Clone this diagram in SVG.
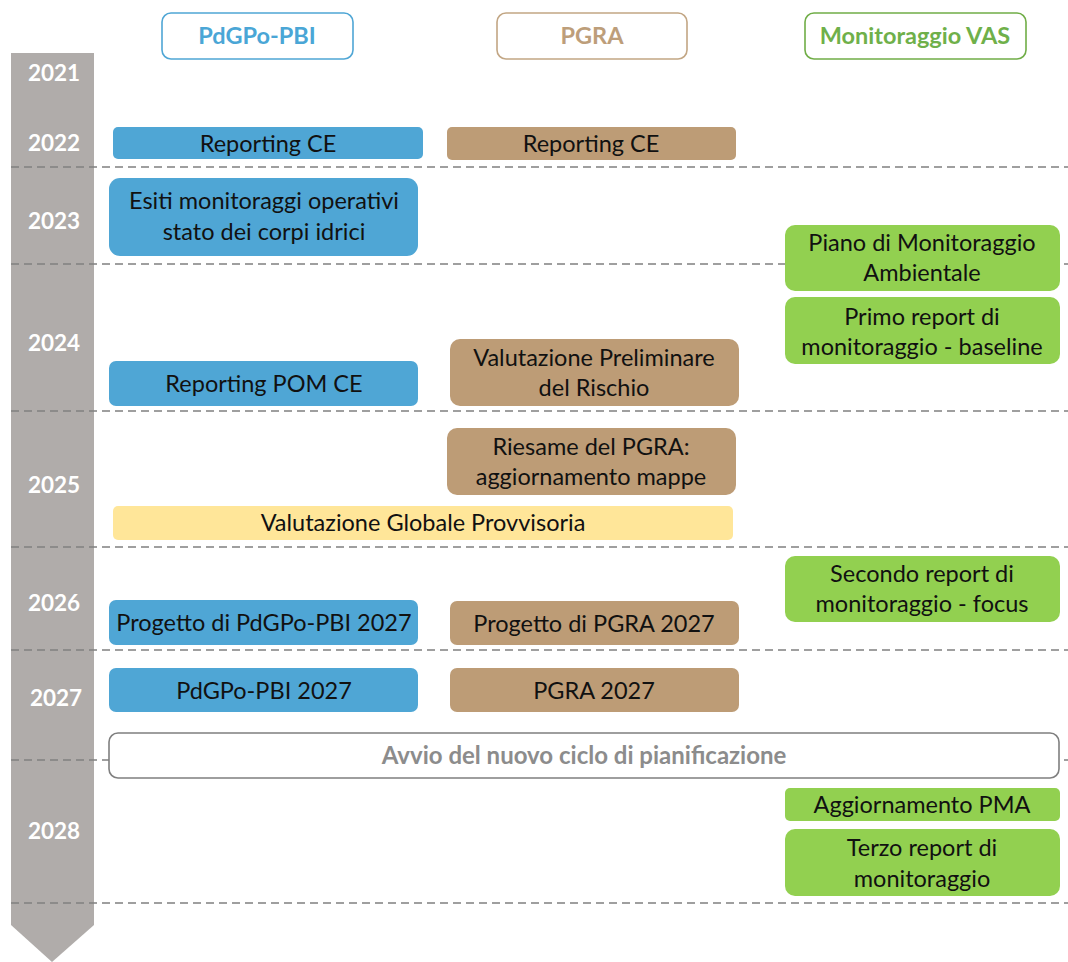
<svg xmlns="http://www.w3.org/2000/svg" width="1068" height="962" viewBox="0 0 1068 962">
<style>
text{font-family:Lato,"Noto Sans",sans-serif;text-anchor:middle}
.yr{fill:#fff;font-weight:bold;font-size:22.5px}
.hd{fill:#fff;stroke-width:1.6}
.hdt{font-weight:bold;font-size:23.5px}
.t{fill:#111;font-size:23.5px}
.blue{fill:#4fa6d5}
.tan{fill:#bd9c76}
.green{fill:#92d050}
.yel{fill:#ffe699}
.dash{stroke:#808080;stroke-width:1.5;stroke-dasharray:8 5;fill:none}
</style>
<rect width="1068" height="962" fill="#fff"/>
<g id="timeline">
<path d="M11 53 H94 V925 L52 962 L11 925 Z" fill="#b0acaa"/>
<text class="yr" x="54" y="81">2021</text>
<text class="yr" x="54" y="151">2022</text>
<text class="yr" x="54" y="229">2023</text>
<text class="yr" x="54" y="351">2024</text>
<text class="yr" x="54" y="493">2025</text>
<text class="yr" x="54" y="611">2026</text>
<text class="yr" x="56" y="706">2027</text>
<text class="yr" x="54" y="839">2028</text>
</g>
<g id="connectors">
<path class="dash" d="M11 167H1068M11 264H1068M11 411H1068M11 547H1068M11 650H1068M11 760H1068M11 903H1068"/>
</g>
<g id="h-pdgpo"><rect class="hd" x="162" y="13" width="191" height="46" rx="9" stroke="#4fa6d5"/><text class="hdt" x="257" y="44" fill="#4aa6d6">PdGPo-PBI</text></g>
<g id="h-pgra"><rect class="hd" x="497" y="13" width="190" height="46" rx="9" stroke="#c2a684"/><text class="hdt" x="592" y="44" fill="#bd9e7a">PGRA</text></g>
<g id="h-vas"><rect class="hd" x="805" y="13" width="221" height="46" rx="9" stroke="#70ad47"/><text class="hdt" x="915" y="44" fill="#6fb04a">Monitoraggio VAS</text></g>

<g id="b1"><rect class="blue" x="113" y="127" width="310" height="32" rx="5"/><text class="t" x="268" y="152">Reporting CE</text></g>
<g id="b2"><rect class="blue" x="109" y="178" width="309" height="78" rx="11"/><text class="t" x="264" y="209">Esiti monitoraggi operativi</text><text class="t" x="264" y="240">stato dei corpi idrici</text></g>
<g id="b3"><rect class="blue" x="109" y="361" width="309" height="45" rx="7"/><text class="t" x="264" y="392">Reporting POM CE</text></g>
<g id="b4"><rect class="blue" x="109" y="600" width="309" height="45" rx="7"/><text class="t" x="264" y="631">Progetto di PdGPo-PBI 2027</text></g>
<g id="b5"><rect class="blue" x="109" y="668" width="309" height="44" rx="7"/><text class="t" x="264" y="699">PdGPo-PBI 2027</text></g>

<g id="p1"><rect class="tan" x="447" y="127" width="289" height="33" rx="5"/><text class="t" x="591" y="152">Reporting CE</text></g>
<g id="p2"><rect class="tan" x="450" y="339" width="289" height="67" rx="10"/><text class="t" x="594" y="366">Valutazione Preliminare</text><text class="t" x="594" y="396">del Rischio</text></g>
<g id="p3"><rect class="tan" x="447" y="428" width="289" height="67" rx="10"/><text class="t" x="591" y="455">Riesame del PGRA:</text><text class="t" x="591" y="485">aggiornamento mappe</text></g>
<g id="p4"><rect class="tan" x="450" y="601" width="289" height="44" rx="7"/><text class="t" x="594" y="632">Progetto di PGRA 2027</text></g>
<g id="p5"><rect class="tan" x="450" y="668" width="289" height="44" rx="7"/><text class="t" x="594" y="699">PGRA 2027</text></g>

<g id="y1"><rect class="yel" x="113" y="506" width="620" height="34" rx="5"/><text class="t" x="423" y="531">Valutazione Globale Provvisoria</text></g>

<g id="g1"><rect class="green" x="785" y="225" width="275" height="66" rx="10"/><text class="t" x="922" y="251">Piano di Monitoraggio</text><text class="t" x="922" y="281">Ambientale</text></g>
<g id="g2"><rect class="green" x="785" y="297" width="275" height="67" rx="10"/><text class="t" x="922" y="325">Primo report di</text><text class="t" x="922" y="355">monitoraggio - baseline</text></g>
<g id="g3"><rect class="green" x="785" y="556" width="275" height="66" rx="10"/><text class="t" x="922" y="582">Secondo report di</text><text class="t" x="922" y="612">monitoraggio - focus</text></g>
<g id="g4"><rect class="green" x="785" y="788" width="275" height="33" rx="5"/><text class="t" x="922" y="813">Aggiornamento PMA</text></g>
<g id="g5"><rect class="green" x="785" y="829" width="275" height="67" rx="10"/><text class="t" x="922" y="856">Terzo report di</text><text class="t" x="922" y="887">monitoraggio</text></g>

<g id="avvio"><rect x="109" y="733" width="950" height="45" rx="9" fill="#fff" stroke="#7f7f7f" stroke-width="1.6"/><text x="584" y="764" font-size="24" font-weight="bold" fill="#8c8c8c">Avvio del nuovo ciclo di pianificazione</text></g>
</svg>
